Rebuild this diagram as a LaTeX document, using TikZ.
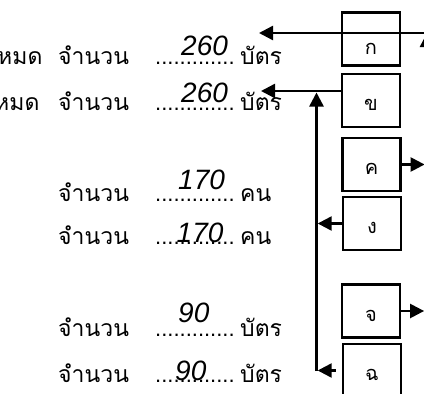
\documentclass[tikz,border=0pt]{standalone}
\usepackage{fontspec}
\usepackage{tikz}
\usetikzlibrary{arrows.meta,positioning,calc}
\newfontfamily\thaifont[Script=Thai]{Loma}
\newfontfamily\numfont{Liberation Sans}
\tikzset{
	box/.style={draw, line width=2.2pt, minimum width=58pt, minimum height=53pt,
		inner sep=0pt, font=\thaifont\fontsize{20}{20}\selectfont,
		text height=20pt, text depth=0pt},
	arrow/.style={-{Triangle[length=14pt,width=14pt]}, line width=2.4pt},
	word/.style={anchor=base west, inner sep=0pt, font=\thaifont\fontsize{23}{23}\selectfont},
	num/.style={anchor=base west, inner sep=0pt, font=\numfont\itshape\fontsize{28}{28}\selectfont},
	dots/.style={anchor=base west, inner sep=0pt, font=\numfont\fontsize{22}{22}\selectfont}
}
\begin{document}
\begin{tikzpicture}[x=1pt,y=-1pt]
	
	%% -- Frame
	\useasboundingbox (0,0) rectangle (424,394);
	\clip (0,0) rectangle (424,394);
	
	%% -- Boxes
	\node[box, text height=30pt] (a) at (371,39) {ก};
	\node[box] (b) at (371,100.5) {ข};
	\node[box] (c) at (371.5,164.5) {ค};
	\node[box] (d) at (372,223.5) {ง};
	\node[box] (e) at (371,311) {จ};
	\node[box] (f) at (372,370.5) {ฉ};
	
	%% -- Row 1
	\node[word] (w1) at (-3,64) {หมด};
	\node[word] (q1) at (58,64) {จำนวน};
	\node[dots] (d1) at (155,64) {.............};
	\node[num] (n1) at (181,55) {260};
	\node[word] (u1) at (240,64) {บัตร};
	
	%% -- Row 2
	\node[word] (w2) at (-6,110) {หมด};
	\node[word] (q2) at (58,110) {จำนวน};
	\node[dots] (d2) at (155,110) {.............};
	\node[num] (n2) at (181,102) {260};
	\node[word] (u2) at (240,110) {บัตร};
	
	%% -- Row 3
	\node[word] (q3) at (58,201) {จำนวน};
	\node[dots] (d3) at (155,201) {.............};
	\node[num] (n3) at (178,189.5) {170};
	\node[word] (u3) at (240,201) {คน};
	
	%% -- Row 4
	\node[word] (q4) at (58,244) {จำนวน};
	\node[dots] (d4) at (155,244) {.............};
	\node[num] (n4) at (176.5,242) {170};
	\node[word] (u4) at (240,244) {คน};
	
	%% -- Row 5
	\node[word] (q5) at (58,336.5) {จำนวน};
	\node[dots] (d5) at (155,336.5) {.............};
	\node[num] (n5) at (178,322) {90};
	\node[word] (u5) at (240,336.5) {บัตร};
	
	%% -- Row 6
	\node[word] (q6) at (58,382) {จำนวน};
	\node[dots] (d6) at (155,382) {.............};
	\node[num] (n6) at (175,380) {90};
	\node[word] (u6) at (240,382) {บัตร};
	
	%% -- Arrows
	\coordinate (tip1) at (259,33);
	\coordinate (tip2) at (261,91);
	\coordinate (inA) at (430,33);
	\coordinate (inB) at (427,130);
	\coordinate (bus) at (316.5,371);
	
	\draw[arrow] (inA) -- (tip1);
	\draw[arrow] (inB) -- (inB |- tip1);
	\draw[arrow] (b.west |- tip2) -- (tip2);
	\draw[arrow] (bus) -- ($(bus |- tip2)+(0,1.5)$);
	\draw[arrow] (d.west) -- ($(d.west -| bus)+(1.2,0)$);
	\draw[arrow] ([xshift=-6pt]f.west) -- ($(f.west -| bus)+(1.2,0)$);
	\draw[arrow] (c.east) -- ++(23,0);
	\draw[arrow] (e.east) -- ++(23,0);
	
\end{tikzpicture}
\end{document}
